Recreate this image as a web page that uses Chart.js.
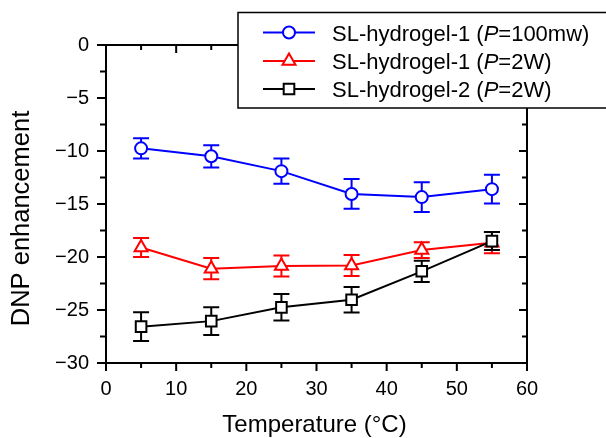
<!DOCTYPE html>
<html><head><meta charset="utf-8">
<script src="https://cdn.jsdelivr.net/npm/chart.js@4"></script>
<style>html,body{margin:0;padding:0;background:#fff}</style>
</head><body>
<canvas id="c" width="606" height="438"></canvas>
<script>
// ---- data ----
const temperatures = [5, 15, 25, 35, 45, 55];
const seriesNames = ['SL-hydrogel-1', 'SL-hydrogel-1', 'SL-hydrogel-2'];
const seriesPowers = ['100mw', '2W', '2W'];
const blueValues  = [-9.75, -10.5, -11.9, -14.05, -14.35, -13.6];
const blueErrors  = [0.95, 1.05, 1.2, 1.4, 1.4, 1.35];
const redValues   = [-19.1, -21.1, -20.85, -20.8, -19.35, -18.65];
const redErrors   = [0.9, 1.0, 1.0, 1.0, 0.75, 1.0];
const blackValues = [-26.57, -26.05, -24.75, -24.03, -21.35, -18.5];
const blackErrors = [1.35, 1.3, 1.25, 1.2, 1.0, 0.85];
const xTickValues = [0, 10, 20, 30, 40, 50, 60];
const yTickValues = [0, -5, -10, -15, -20, -25, -30];
const xTitle = 'Temperature (°C)';
const yTitle = 'DNP enhancement';

const FONT = '"Liberation Sans", Arial, Helvetica, sans-serif';

function pts(vals) { return temperatures.map((t, i) => ({ x: t, y: vals[i] })); }

function drawMarker(ctx, style, r, x, y) {
  ctx.beginPath();
  if (style === 'circle') {
    ctx.arc(x, y, r, 0, Math.PI * 2);
  } else if (style === 'triangle') {
    for (let k = 0; k < 3; k++) {
      const a = k * 2 * Math.PI / 3;
      const px = x + Math.sin(a) * r, py = y - Math.cos(a) * r;
      if (k === 0) ctx.moveTo(px, py); else ctx.lineTo(px, py);
    }
    ctx.closePath();
  } else {
    const s = Math.SQRT1_2 * r;
    ctx.rect(x - s, y - s, 2 * s, 2 * s);
  }
  ctx.fill();
  ctx.stroke();
}

const decorPlugin = {
  id: 'decor',
  beforeDatasetDraw(chart, args) {
    const ds = chart.data.datasets[args.index];
    const xs = chart.scales.x, ys = chart.scales.y, ctx = chart.ctx;
    ctx.save();
    ctx.strokeStyle = ds.borderColor;
    ctx.lineWidth = 2;
    ds.errors.forEach((e, i) => {
      const p = ds.data[i];
      const px = xs.getPixelForValue(p.x);
      const t = ys.getPixelForValue(p.y + e);
      const b = ys.getPixelForValue(p.y - e);
      ctx.beginPath();
      ctx.moveTo(px, t); ctx.lineTo(px, b);
      ctx.moveTo(px - 8, t); ctx.lineTo(px + 8, t);
      ctx.moveTo(px - 8, b); ctx.lineTo(px + 8, b);
      ctx.stroke();
    });
    ctx.restore();
  },
  afterDraw(chart) {
    const ctx = chart.ctx;
    const { left, right, top, bottom } = chart.chartArea;
    const xs = chart.scales.x, ys = chart.scales.y;
    ctx.save();
    ctx.strokeStyle = '#000';
    ctx.lineWidth = 2;
    ctx.strokeRect(left, top, right - left, bottom - top);
    ctx.beginPath();
    for (let i = 0; i < xTickValues.length; i++) {
      const px = xs.getPixelForValue(xTickValues[i]);
      ctx.moveTo(px, bottom); ctx.lineTo(px, bottom + 8);
      ctx.moveTo(px, top); ctx.lineTo(px, top + 8);
      if (i < xTickValues.length - 1) {
        const mx = xs.getPixelForValue((xTickValues[i] + xTickValues[i + 1]) / 2);
        ctx.moveTo(mx, bottom); ctx.lineTo(mx, bottom + 5);
        ctx.moveTo(mx, top); ctx.lineTo(mx, top + 5);
      }
    }
    for (let i = 0; i < yTickValues.length; i++) {
      const py = ys.getPixelForValue(yTickValues[i]);
      ctx.moveTo(left - 9, py); ctx.lineTo(left, py);
      ctx.moveTo(right - 8, py); ctx.lineTo(right, py);
      if (i < yTickValues.length - 1) {
        const my = ys.getPixelForValue((yTickValues[i] + yTickValues[i + 1]) / 2);
        ctx.moveTo(left - 6, my); ctx.lineTo(left, my);
        ctx.moveTo(right - 5, my); ctx.lineTo(right, my);
      }
    }
    ctx.stroke();

    // axis titles
    ctx.fillStyle = '#000';
    ctx.textAlign = 'center';
    ctx.textBaseline = 'alphabetic';
    ctx.font = '24px ' + FONT;
    ctx.fillText(xTitle, (left + right) / 2 - 2, 431.5);
    ctx.save();
    ctx.font = '25.5px ' + FONT;
    ctx.translate(28.5, (top + bottom) / 2 + 14.5);
    ctx.rotate(-Math.PI / 2);
    ctx.fillText(yTitle, 0, 0);
    ctx.restore();

    // legend
    ctx.fillStyle = '#fff';
    ctx.fillRect(238, 12.5, 380, 95.5);
    ctx.lineWidth = 1.5;
    ctx.strokeStyle = '#000';
    ctx.strokeRect(238, 12.5, 380, 95.5);
    const rowY = [32.5, 61, 89];
    [0, 1, 2].forEach((di, r) => {
      const ds = chart.data.datasets[di];
      const y = rowY[r];
      ctx.strokeStyle = ds.borderColor;
      ctx.lineWidth = 2;
      ctx.beginPath();
      ctx.moveTo(263, y); ctx.lineTo(315, y);
      ctx.stroke();
      ctx.fillStyle = '#fff';
      drawMarker(ctx, ds.pointStyle, ds.pointRadius, 289, y);
      ctx.fillStyle = '#000';
      ctx.textAlign = 'left';
      ctx.textBaseline = 'alphabetic';
      const by = y + 8;
      let x = 332;
      ctx.font = '22px ' + FONT;
      const a = seriesNames[di] + ' (';
      ctx.fillText(a, x, by); x += ctx.measureText(a).width;
      ctx.font = 'italic 22px ' + FONT;
      ctx.fillText('P', x, by); x += ctx.measureText('P').width;
      ctx.font = '22px ' + FONT;
      ctx.fillText('=' + seriesPowers[di] + ')', x, by);
    });
    ctx.restore();
  }
};

const commonTicks = { color: '#000', font: { family: FONT, size: 20 }, autoSkip: false, maxRotation: 0 };

new Chart(document.getElementById('c'), {
  type: 'line',
  data: {
    datasets: [
      { label: seriesNames[0] + ' (P=' + seriesPowers[0] + ')', data: pts(blueValues), errors: blueErrors,
        borderColor: '#0000ff', backgroundColor: '#fff', borderWidth: 2, pointStyle: 'circle', pointRadius: 6,
        pointBorderWidth: 2, pointBackgroundColor: '#fff', order: 2, tension: 0 },
      { label: seriesNames[1] + ' (P=' + seriesPowers[1] + ')', data: pts(redValues), errors: redErrors,
        borderColor: '#ff0000', backgroundColor: '#fff', borderWidth: 2, pointStyle: 'triangle', pointRadius: 7.5,
        pointBorderWidth: 2, pointBackgroundColor: '#fff', order: 1, tension: 0 },
      { label: seriesNames[2] + ' (P=' + seriesPowers[2] + ')', data: pts(blackValues), errors: blackErrors,
        borderColor: '#000000', backgroundColor: '#fff', borderWidth: 2, pointStyle: 'rect', pointRadius: 7.5,
        pointBorderWidth: 2, pointBackgroundColor: '#fff', order: 0, tension: 0 }
    ]
  },
  options: {
    responsive: false,
    animation: false,
    layout: { padding: { top: 45, right: 79, left: 0, bottom: 0 } },
    plugins: { legend: { display: false }, tooltip: { enabled: false } },
    scales: {
      x: {
        type: 'linear', min: 0, max: 60,
        afterBuildTicks: s => { s.ticks = xTickValues.map(v => ({ value: v })); },
        afterFit: s => { s.height = 75; },
        grid: { display: false, drawTicks: false },
        border: { display: false },
        ticks: Object.assign({ padding: 14 }, commonTicks)
      },
      y: {
        type: 'linear', min: -30, max: 0,
        afterBuildTicks: s => { s.ticks = yTickValues.map(v => ({ value: v })); },
        afterFit: s => { s.width = 106; },
        grid: { display: false, drawTicks: false },
        border: { display: false },
        ticks: Object.assign({ padding: 17, callback: v => String(v).replace('-', '\u2212') }, commonTicks)
      }
    }
  },
  plugins: [decorPlugin]
});
</script>
</body></html>
